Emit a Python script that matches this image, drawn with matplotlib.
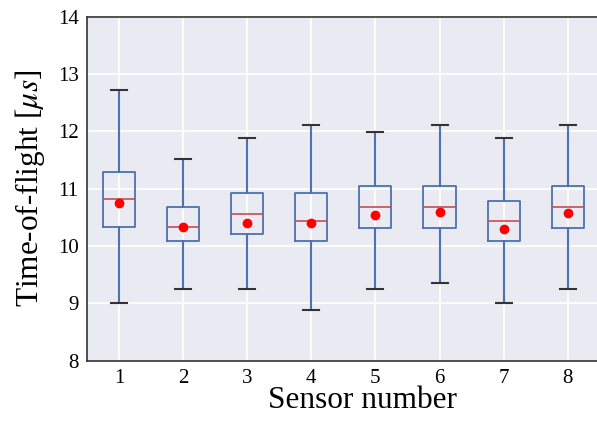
import matplotlib
matplotlib.use("Agg")
import matplotlib.pyplot as plt

plt.rcParams["mathtext.fontset"] = "stix"

sensors = [1, 2, 3, 4, 5, 6, 7, 8]
whisker_low = [9.00, 9.25, 9.25, 8.88, 9.25, 9.36, 9.00, 9.25]
q1 = [10.32, 10.08, 10.20, 10.08, 10.31, 10.31, 10.08, 10.31]
median = [10.81, 10.32, 10.56, 10.43, 10.68, 10.68, 10.43, 10.68]
q3 = [11.28, 10.67, 10.92, 10.92, 11.04, 11.04, 10.79, 11.04]
whisker_high = [12.71, 11.52, 11.88, 12.11, 11.99, 12.11, 11.88, 12.11]
mean = [10.75, 10.33, 10.39, 10.40, 10.54, 10.59, 10.29, 10.57]

W, H = 597, 421
fig = plt.figure(figsize=(W / 100, H / 100), dpi=100)
left, right, top, bottom = 86.9, 599.8, 16.5, 360.5
ax = fig.add_axes([left / W, 1 - bottom / H, (right - left) / W, (bottom - top) / H])
ax.set_facecolor("#EAEAF2")

stats = []
for i in range(len(sensors)):
    stats.append(dict(whislo=whisker_low[i], q1=q1[i], med=median[i], q3=q3[i],
                      whishi=whisker_high[i], mean=mean[i], fliers=[], label=str(sensors[i])))

ax.bxp(stats, positions=sensors, widths=0.5, showmeans=True, showfliers=False,
       boxprops=dict(color="#4C72B0", linewidth=1.3),
       whiskerprops=dict(color="#4C72B0", linewidth=1.5),
       capprops=dict(color="#333333", linewidth=1.5),
       medianprops=dict(color="#C44E52", linewidth=1.2),
       meanprops=dict(marker="o", markerfacecolor="#FF0000", markeredgecolor="#FF0000", markersize=6))

ax.set_xlim(0.5, 8.5)
ax.set_ylim(8, 14)
ax.set_yticks([8, 9, 10, 11, 12, 13, 14])
ax.set_xticks(sensors)
ax.set_xticklabels([str(s) for s in sensors])
ax.grid(True, color="white", linewidth=1.2)
ax.set_axisbelow(True)
ax.tick_params(length=0, pad=6, labelsize=15)
for lab in ax.get_xticklabels() + ax.get_yticklabels():
    lab.set_fontfamily("Liberation Serif")
for s in ["left", "bottom", "top"]:
    ax.spines[s].set_color("#333333")
    ax.spines[s].set_linewidth(1.2)
ax.spines["right"].set_visible(False)

ax.set_xlabel("Sensor number", fontfamily="Liberation Serif", fontsize=22.5)
ax.xaxis.set_label_coords(0.538, -0.075, transform=ax.transAxes)
ax.xaxis.label.set_verticalalignment("top")
ax.set_ylabel(r"Time-of-flight [$\mu s$]", fontfamily="Liberation Serif", fontsize=22.5, labelpad=8)

fig.savefig("out.png", dpi=100)
